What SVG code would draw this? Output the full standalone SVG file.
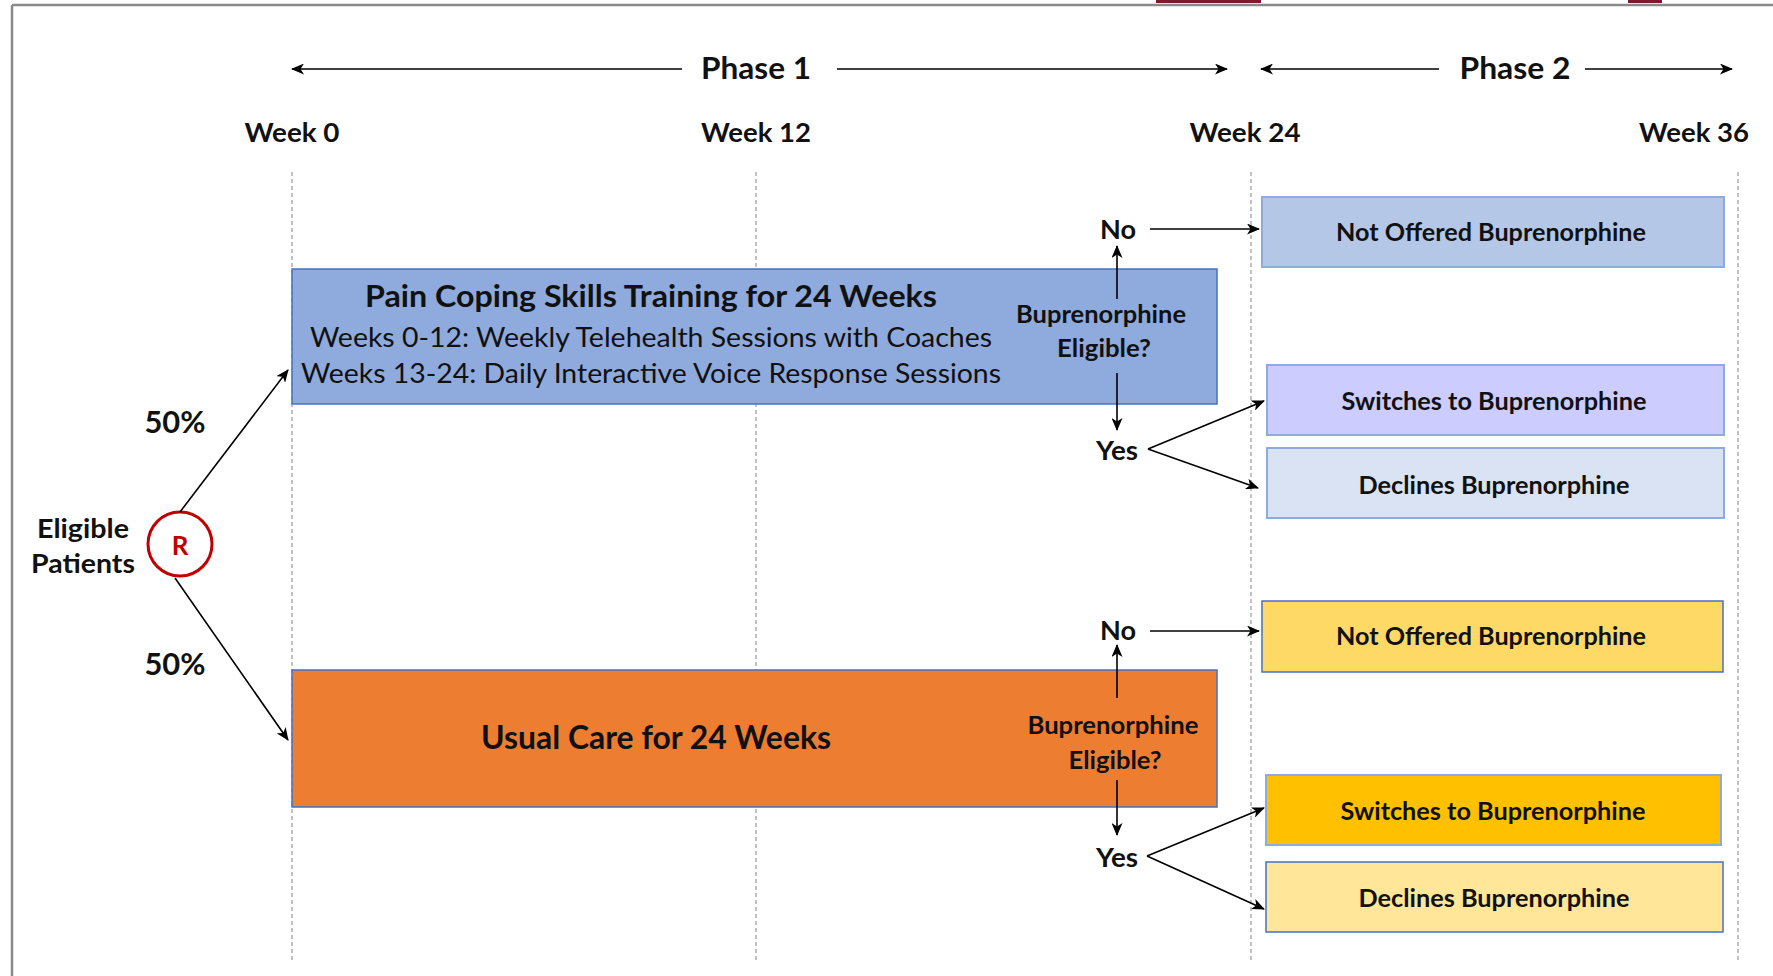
<svg xmlns="http://www.w3.org/2000/svg" width="1773" height="976" viewBox="0 0 1773 976">
<defs>
<marker id="ah" viewBox="0 0 13 11" refX="12" refY="5.5" markerWidth="13" markerHeight="11" markerUnits="userSpaceOnUse" orient="auto">
<path d="M0,0 L13,5.5 L0,11 L3.5,5.5 z" fill="#000"/>
</marker>
<style>
text{font-family:Lato,"Open Sans","Liberation Sans",sans-serif;fill:#111;text-anchor:middle;dominant-baseline:central}
.b{font-weight:bold}
.hdr{font-size:31px;font-weight:bold}
.wk{font-size:27px;font-weight:bold}
.box{font-size:25px;font-weight:bold}
.q{font-size:24px;font-weight:bold}
.yn{font-size:27px;font-weight:bold}
.grid{stroke:#9a9a9a;stroke-width:1.2;stroke-dasharray:4,3;fill:none}
.arr{stroke:#000;stroke-width:1.6;fill:none;marker-end:url(#ah)}
</style>
</defs>
<rect width="1773" height="976" fill="#fff"/>
<!-- frame -->
<line x1="12" y1="5" x2="1773" y2="5" stroke="#8a8a8a" stroke-width="2.5"/>
<line x1="12" y1="5" x2="12" y2="976" stroke="#8a8a8a" stroke-width="2.5"/>
<rect x="1156" y="0" width="105" height="3" fill="#7b1c2e"/>
<rect x="1628" y="0" width="34" height="3" fill="#7b1c2e"/>

<g id="timeline">
<line class="grid" x1="292" y1="172" x2="292" y2="961"/>
<line class="grid" x1="756" y1="172" x2="756" y2="961"/>
<line class="grid" x1="1251" y1="172" x2="1251" y2="961"/>
<line class="grid" x1="1738" y1="172" x2="1738" y2="961"/>
<text class="hdr" x="756" y="67" textLength="110" lengthAdjust="spacingAndGlyphs">Phase 1</text>
<text class="hdr" x="1515" y="67" textLength="111" lengthAdjust="spacingAndGlyphs">Phase 2</text>
<text class="wk" x="292" y="131" textLength="95" lengthAdjust="spacingAndGlyphs">Week 0</text>
<text class="wk" x="756" y="131" textLength="110" lengthAdjust="spacingAndGlyphs">Week 12</text>
<text class="wk" x="1245" y="131" textLength="111" lengthAdjust="spacingAndGlyphs">Week 24</text>
<text class="wk" x="1694" y="131" textLength="110" lengthAdjust="spacingAndGlyphs">Week 36</text>
</g>

<g id="randomize">
<circle cx="180" cy="544" r="32" fill="#fff" stroke="#c00000" stroke-width="3"/>
<text x="180" y="545" style="font-size:26px;font-weight:bold;fill:#c00000">R</text>
<text class="wk" x="83" y="527" textLength="92" lengthAdjust="spacingAndGlyphs">Eligible</text>
<text class="wk" x="83" y="562" textLength="104" lengthAdjust="spacingAndGlyphs">Patients</text>
<text class="b" x="175" y="421" style="font-size:30px" textLength="61" lengthAdjust="spacingAndGlyphs">50%</text>
<text class="b" x="175" y="663" style="font-size:30px" textLength="61" lengthAdjust="spacingAndGlyphs">50%</text>
</g>

<g id="pcst">
<rect x="292" y="269" width="925" height="135" fill="#8faadc" stroke="#4472c4" stroke-width="1.5"/>
<text class="b" x="651" y="295" style="font-size:31px" textLength="572" lengthAdjust="spacingAndGlyphs">Pain Coping Skills Training for 24 Weeks</text>
<text x="651" y="336" style="font-size:27px" textLength="682" lengthAdjust="spacingAndGlyphs">Weeks 0-12: Weekly Telehealth Sessions with Coaches</text>
<text x="651" y="372" style="font-size:27px" textLength="700" lengthAdjust="spacingAndGlyphs">Weeks 13-24: Daily Interactive Voice Response Sessions</text>
<text class="q" x="1101" y="313" textLength="170" lengthAdjust="spacingAndGlyphs">Buprenorphine</text>
<text class="q" x="1104" y="347" textLength="94" lengthAdjust="spacingAndGlyphs">Eligible?</text>
<text class="yn" x="1118" y="228" textLength="36" lengthAdjust="spacingAndGlyphs">No</text>
<text class="yn" x="1117" y="449" textLength="42" lengthAdjust="spacingAndGlyphs">Yes</text>
</g>

<g id="usualcare">
<rect x="292" y="670" width="925" height="137" fill="#ed7d31" stroke="#4472c4" stroke-width="1.5"/>
<text class="b" x="656" y="736" style="font-size:32px" textLength="350" lengthAdjust="spacingAndGlyphs">Usual Care for 24 Weeks</text>
<text class="q" x="1113" y="724" textLength="171" lengthAdjust="spacingAndGlyphs">Buprenorphine</text>
<text class="q" x="1115" y="759" textLength="93" lengthAdjust="spacingAndGlyphs">Eligible?</text>
<text class="yn" x="1118" y="629" textLength="36" lengthAdjust="spacingAndGlyphs">No</text>
<text class="yn" x="1117" y="856" textLength="42" lengthAdjust="spacingAndGlyphs">Yes</text>
</g>

<g id="pcst-not-offered">
<rect x="1262" y="197" width="462" height="70" fill="#b4c7e7" stroke="#8faadc" stroke-width="2"/>
<text class="box" x="1491" y="231" textLength="310" lengthAdjust="spacingAndGlyphs">Not Offered Buprenorphine</text>
</g>
<g id="pcst-switches">
<rect x="1267" y="365" width="457" height="70" fill="#ccccff" stroke="#8faadc" stroke-width="2"/>
<text class="box" x="1494" y="400" textLength="305" lengthAdjust="spacingAndGlyphs">Switches to Buprenorphine</text>
</g>
<g id="pcst-declines">
<rect x="1267" y="448" width="457" height="70" fill="#dae3f3" stroke="#8faadc" stroke-width="2"/>
<text class="box" x="1494" y="484" textLength="271" lengthAdjust="spacingAndGlyphs">Declines Buprenorphine</text>
</g>
<g id="uc-not-offered">
<rect x="1262" y="601" width="461" height="71" fill="#ffd966" stroke="#4472c4" stroke-width="1.5"/>
<text class="box" x="1491" y="635" textLength="310" lengthAdjust="spacingAndGlyphs">Not Offered Buprenorphine</text>
</g>
<g id="uc-switches">
<rect x="1266" y="775" width="455" height="70" fill="#ffc000" stroke="#8faadc" stroke-width="2"/>
<text class="box" x="1493" y="810" textLength="305" lengthAdjust="spacingAndGlyphs">Switches to Buprenorphine</text>
</g>
<g id="uc-declines">
<rect x="1266" y="862" width="457" height="70" fill="#ffe699" stroke="#4472c4" stroke-width="1.5"/>
<text class="box" x="1494" y="897" textLength="271" lengthAdjust="spacingAndGlyphs">Declines Buprenorphine</text>
</g>

<g id="connectors">
<line class="arr" x1="682" y1="69" x2="292" y2="69"/>
<line class="arr" x1="837" y1="69" x2="1227" y2="69"/>
<line class="arr" x1="1439" y1="69" x2="1261" y2="69"/>
<line class="arr" x1="1585" y1="69" x2="1732" y2="69"/>
<line class="arr" x1="180" y1="512" x2="288" y2="370"/>
<line class="arr" x1="175" y1="578" x2="288" y2="740"/>
<line class="arr" x1="1117" y1="299" x2="1117" y2="246"/>
<line class="arr" x1="1150" y1="229" x2="1259" y2="229"/>
<line class="arr" x1="1117" y1="373" x2="1117" y2="430"/>
<line class="arr" x1="1148" y1="449" x2="1264" y2="401"/>
<line class="arr" x1="1148" y1="449" x2="1258" y2="488"/>
<line class="arr" x1="1117" y1="698" x2="1117" y2="645"/>
<line class="arr" x1="1150" y1="631" x2="1259" y2="631"/>
<line class="arr" x1="1117" y1="780" x2="1117" y2="835"/>
<line class="arr" x1="1147" y1="856" x2="1264" y2="808"/>
<line class="arr" x1="1147" y1="856" x2="1264" y2="909"/>
</g>
</svg>
